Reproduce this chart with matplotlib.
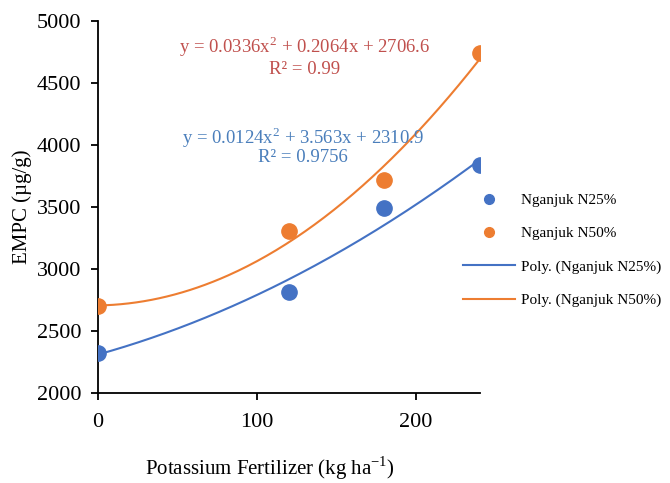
import numpy as np
import matplotlib.pyplot as plt
from matplotlib.lines import Line2D

# ── data ──────────────────────────────────────────────────────────────────────
potassium = [0, 120, 180, 240]
n25 = [2325, 2815, 3495, 3835]
n50 = [2700, 3305, 3720, 4738]

# trendline coefficients as printed on the chart (a x^2 + b x + c)
coef_n25 = [0.0124, 3.563, 2310.9]
coef_n50 = [0.0336, 0.2064, 2706.6]
r2_n25 = "0.9756"
r2_n50 = "0.99"

C_BLUE = "#4472C4"
C_ORANGE = "#ED7D31"

plt.rcParams["font.family"] = ["Liberation Serif", "DejaVu Serif"]

fig = plt.figure(figsize=(6.7, 4.83), dpi=100)
ax = fig.add_axes([0.146, 0.186, 0.570, 0.771])

xs = np.linspace(0, 240, 200)
ax.plot(xs, np.polyval(coef_n25, xs), color=C_BLUE, lw=1.5, zorder=2)
ax.plot(xs, np.polyval(coef_n50, xs), color=C_ORANGE, lw=1.5, zorder=2)
ax.plot(potassium, n25, "o", color=C_BLUE, ms=11, zorder=3)
ax.plot(potassium, n50, "o", color=C_ORANGE, ms=11, zorder=3)

ax.set_xlim(0, 240)
ax.set_ylim(2000, 5000)
ax.set_xticks([0, 100, 200])
ax.set_yticks(np.arange(2000, 5001, 500))
for s in ["top", "right"]:
    ax.spines[s].set_visible(False)
for s in ["left", "bottom"]:
    ax.spines[s].set_linewidth(1.3)
ax.tick_params(axis="y", direction="out", length=5, width=1.3, labelsize=16, pad=7)
ax.tick_params(axis="x", direction="out", length=5, width=1.3, labelsize=16, pad=9)

ax.set_ylabel("EMPC (µg/g)", fontsize=15, labelpad=3)
ax.set_xlabel("Potassium Fertilizer (kg ha$^{\\mathregular{-1}}$)", fontsize=15)
ax.xaxis.set_label_coords(0.45, -0.165)

# equations
ax.text(130, 4790, "y = 0.0336x$^{\\mathregular{2}}$ + 0.2064x + 2706.6",
        color="#C0504D", fontsize=13.5, ha="center", va="center")
ax.text(130, 4610, "R² = " + r2_n50, color="#C0504D", fontsize=13.5,
        ha="center", va="center")
ax.text(129, 4060, "y = 0.0124x$^{\\mathregular{2}}$ + 3.563x + 2310.9",
        color="#4A7EBB", fontsize=13.5, ha="center", va="center")
ax.text(129, 3895, "R² = " + r2_n25, color="#4A7EBB", fontsize=13.5,
        ha="center", va="center")

handles = [
    Line2D([], [], ls="none", marker="o", color=C_BLUE, ms=7),
    Line2D([], [], ls="none", marker="o", color=C_ORANGE, ms=7),
    Line2D([], [], color=C_BLUE, lw=1.5),
    Line2D([], [], color=C_ORANGE, lw=1.5),
]
labels = ["Nganjuk N25%", "Nganjuk N50%",
          "Poly. (Nganjuk N25%)", "Poly. (Nganjuk N50%)"]
fig.legend(handles, labels, loc="upper left", bbox_to_anchor=(0.682, 0.612),
           frameon=False, fontsize=11, handlelength=3.4, handletextpad=0.4,
           labelspacing=1.28, borderaxespad=0)

fig.savefig("out.png", dpi=100)
